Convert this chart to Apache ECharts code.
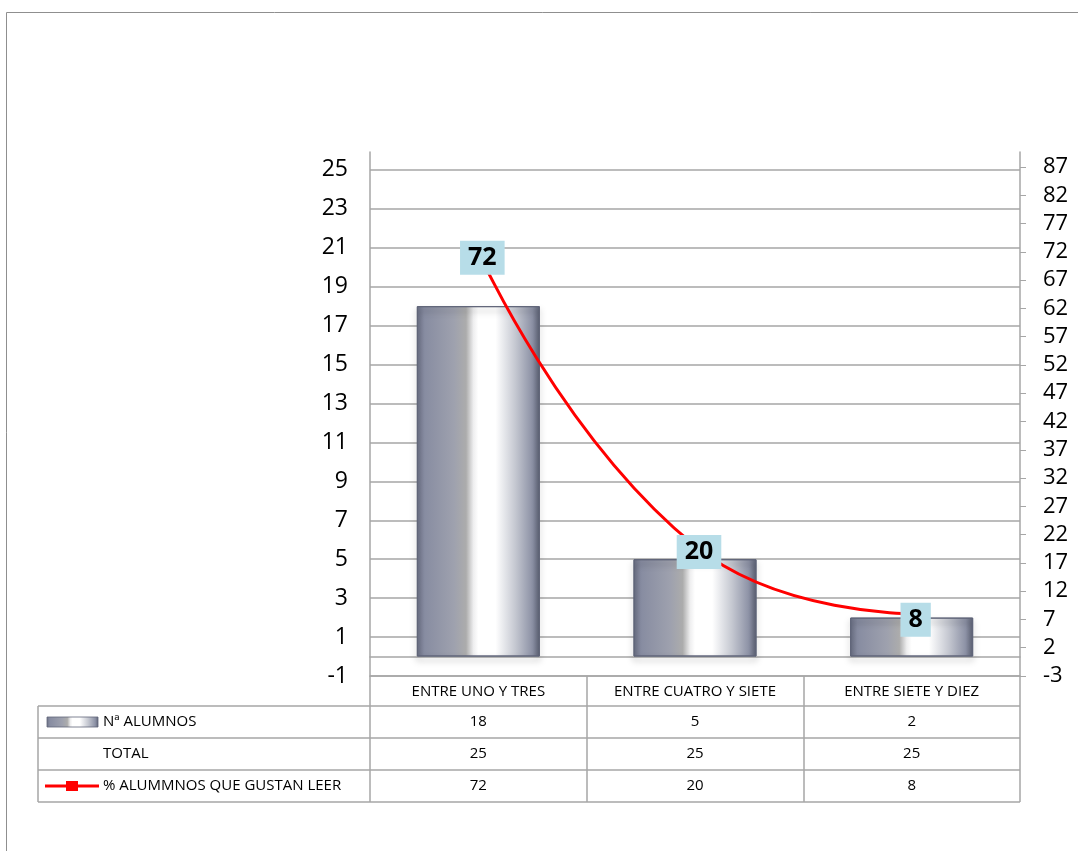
<!DOCTYPE html>
<html><head><meta charset="utf-8">
<script src="https://cdn.jsdelivr.net/npm/echarts@6/dist/echarts.min.js"></script>
<style>html,body{margin:0;padding:0;background:#fff}#c{width:1078px;height:851px}</style>
</head><body><div id="c"></div>
<script>
const categories = ['ENTRE UNO Y TRES', 'ENTRE CUATRO Y SIETE', 'ENTRE SIETE Y DIEZ'];
const alumnos = [18, 5, 2];
const total = [25, 25, 25];
const porcentaje = [72, 20, 8];
const seriesNames = ['Nª ALUMNOS', 'TOTAL', '% ALUMMNOS QUE GUSTAN LEER'];
const leftTicks = [-1, 1, 3, 5, 7, 9, 11, 13, 15, 17, 19, 21, 23, 25];
const rightTicks = [-3, 2, 7, 12, 17, 22, 27, 32, 37, 42, 47, 52, 57, 62, 67, 72, 77, 82, 87];

const FONT = 'Open Sans';
const GRID = {left: 370, right: 58, top: 152, bottom: 175};
const W = 1078, H = 851;
const plotLeft = GRID.left, plotRight = W - GRID.right, plotBottom = H - GRID.bottom;
const tableLeft = 38, rowH = 32, headH = 30;
const lineGray = '#a6a6a6';
const tableFont = 15;

const metal = {
  type: 'linear', x: 0, y: 0, x2: 1, y2: 0,
  colorStops: [
    {offset: 0, color: '#6b7085'},
    {offset: 0.06, color: '#878ca1'},
    {offset: 0.3, color: '#9ea1ae'},
    {offset: 0.4, color: '#acacac'},
    {offset: 0.46, color: '#eeeeef'},
    {offset: 0.5, color: '#ffffff'},
    {offset: 0.64, color: '#ffffff'},
    {offset: 0.8, color: '#c5c8d1'},
    {offset: 0.94, color: '#8c91a5'},
    {offset: 1, color: '#5d6275'}
  ]
};

const chart = echarts.init(document.getElementById('c'), null, {renderer: 'canvas'});
const option = {
  animation: false,
  backgroundColor: '#ffffff',
  grid: GRID,
  xAxis: [
    {
      type: 'category', data: categories,
      axisLine: {show: true, onZero: true, lineStyle: {color: lineGray, width: 1.5}},
      axisTick: {show: false}, axisLabel: {show: false}, splitLine: {show: false}
    },
    {
      type: 'category', data: categories, position: 'bottom',
      axisLine: {show: true, onZero: false, lineStyle: {color: lineGray, width: 1.5}},
      axisTick: {show: true, interval: 0, length: headH + 3 * rowH, lineStyle: {color: lineGray, width: 1.5}},
      axisLabel: {show: true, interval: 0, hideOverlap: false, margin: 8, fontFamily: FONT, fontSize: tableFont, color: '#000'},
      splitLine: {show: false}
    }
  ],
  yAxis: [
    {
      type: 'value', min: -1, max: 25.92, position: 'left',
      axisLine: {show: true, lineStyle: {color: lineGray, width: 1.5}},
      axisTick: {show: false, customValues: leftTicks},
      axisLabel: {customValues: leftTicks, margin: 22, fontFamily: FONT, fontSize: 23, color: '#000'},
      splitLine: {show: true, lineStyle: {color: lineGray, width: 1.5}}
    },
    {
      type: 'value', min: -3, max: 89.65, position: 'right',
      axisLine: {show: true, lineStyle: {color: lineGray, width: 1.5}},
      axisTick: {show: true, length: 6, customValues: rightTicks, lineStyle: {color: lineGray}},
      axisLabel: {customValues: rightTicks, margin: 23, fontFamily: FONT, fontSize: 22, color: '#000'},
      splitLine: {show: false}
    }
  ],
  series: [
    {
      name: seriesNames[0], type: 'bar', data: alumnos, xAxisIndex: 0, yAxisIndex: 0,
      barWidth: 123,
      itemStyle: {color: metal, borderColor: '#5f6478', borderWidth: 1,
        shadowColor: 'rgba(0,0,0,0.35)', shadowBlur: 6, shadowOffsetY: 4}
    },
    {
      name: seriesNames[2], type: 'line', data: porcentaje, xAxisIndex: 0, yAxisIndex: 1,
      smooth: 0.5, symbol: 'rect', symbolSize: 9, showSymbol: true,
      lineStyle: {color: '#ff0000', width: 3}, itemStyle: {color: '#ff0000'},
      label: {show: true, position: 'inside', offset: [4, 6], fontFamily: FONT, fontWeight: 'bold',
        fontSize: 25, color: '#000', backgroundColor: '#b7dde8', padding: [5, 8, 4, 8]},
      z: 5
    }
  ]
};
chart.setOption(option);

// data table + legend keys + outer border
const g = [];
g.push({type: 'rect', shape: {x: 6.5, y: 12.5, width: 1200, height: 1000}, style: {fill: 'none', stroke: '#8f8f8f', lineWidth: 1}, silent: true});
const bodyTop = plotBottom + headH;
for (let r = 0; r <= 3; r++) {
  const y = bodyTop + r * rowH;
  g.push({type: 'line', shape: {x1: tableLeft, y1: y, x2: plotRight, y2: y}, style: {stroke: lineGray, lineWidth: 1.5}});
}
g.push({type: 'line', shape: {x1: tableLeft, y1: bodyTop, x2: tableLeft, y2: bodyTop + 3 * rowH}, style: {stroke: lineGray, lineWidth: 1.5}});
const rows = [alumnos, total, porcentaje];
rows.forEach((vals, r) => {
  const cy = bodyTop + r * rowH + rowH / 2;
  g.push({type: 'text', x: 103, y: cy, style: {text: seriesNames[r], fontFamily: FONT, fontSize: tableFont, fill: '#000', textVerticalAlign: 'middle', textAlign: 'left'}});
  vals.forEach((v, i) => {
    const cx = chart.convertToPixel({xAxisIndex: 0}, categories[i]);
    g.push({type: 'text', x: cx, y: cy, style: {text: String(v), fontFamily: FONT, fontSize: tableFont, fill: '#000', textVerticalAlign: 'middle', textAlign: 'center'}});
  });
});
// legend keys
const y0 = bodyTop + rowH / 2;
g.push({type: 'rect', shape: {x: 47, y: y0 - 5, width: 51, height: 10}, style: {fill: {
  type: 'linear', x: 0, y: 0, x2: 1, y2: 0, colorStops: metal.colorStops}, stroke: '#5f6478', lineWidth: 0.8}});
const y2 = bodyTop + 2 * rowH + rowH / 2;
g.push({type: 'line', shape: {x1: 45, y1: y2, x2: 99, y2: y2}, style: {stroke: '#ff0000', lineWidth: 3}});
g.push({type: 'rect', shape: {x: 66, y: y2 - 5, width: 12, height: 10}, style: {fill: '#ff0000'}});
chart.setOption({graphic: g});
</script>
</body></html>
